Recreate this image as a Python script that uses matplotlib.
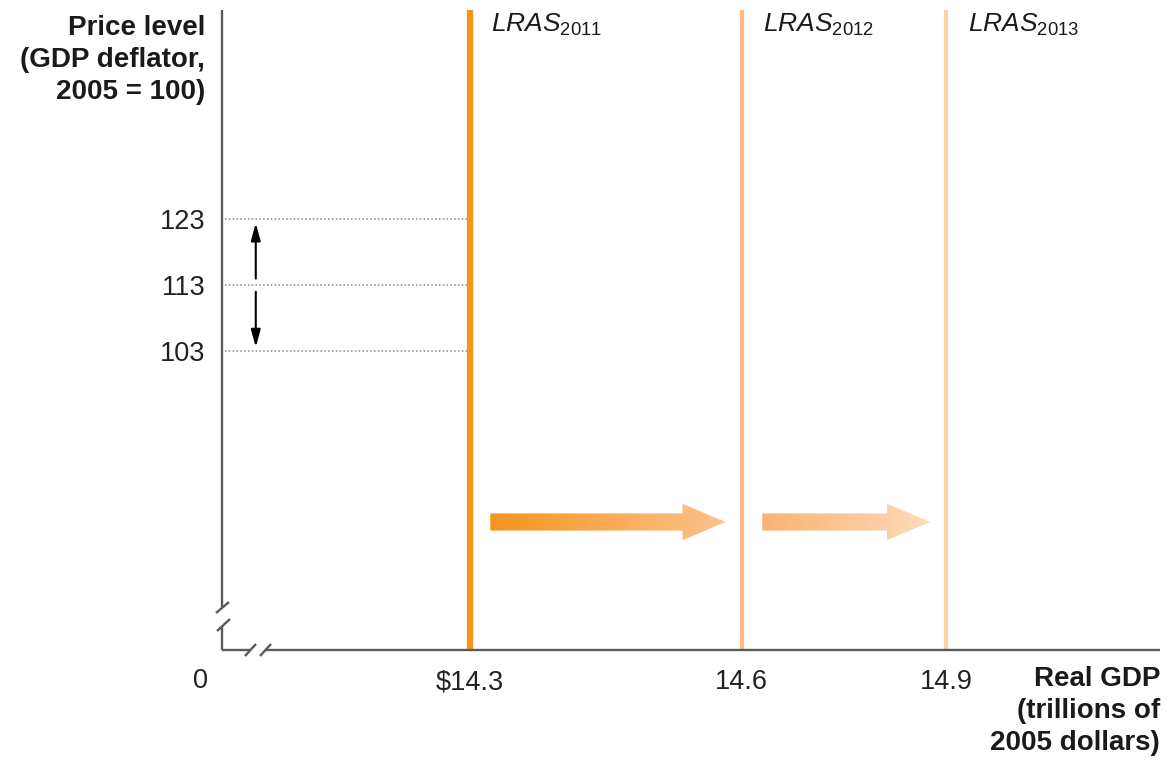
import numpy as np
import matplotlib
matplotlib.use('Agg')
import matplotlib.pyplot as plt
from matplotlib.lines import Line2D
from matplotlib.patches import Polygon
from matplotlib.colors import LinearSegmentedColormap

plt.rcParams['font.family'] = ['Liberation Sans', 'DejaVu Sans']
plt.rcParams['mathtext.fontset'] = 'custom'
plt.rcParams['mathtext.it'] = 'Liberation Sans:italic'
plt.rcParams['mathtext.rm'] = 'Liberation Sans'

# chart data
years = ['2011', '2012', '2013']
gdp_labels = ['$14.3', '14.6', '14.9']
gdp_pos = [26.4, 55.4, 77.2]          # schematic (broken) x axis positions
price_levels = [123, 113, 103]
price_labels = ['123', '113', '103']
lras_colors = ['#F7941D', '#FBBE82', '#FDD3A8']
lras_widths = [4.5, 3.0, 3.0]
arrow_colors = [('#F7941D', '#FCC38E'), ('#FAB273', '#FDDCB9')]

W, H = 1167, 761
AXIS_GRAY = '#5a5a5a'
XLIM = (0, 100)
YLIM = (57.7, 154.7)


def draw_axes_lines(fig):
  """
    Draw both axes with the little break marks (figure pixel coords)
  """
  segs = [
    [(222, 10), (222, 607)],
    [(222, 626), (222, 650)],
    [(222, 650), (251, 650)],
    [(266, 650), (1160, 650)],
    [(216, 613), (229, 602)],
    [(217, 631), (230, 619)],
    [(245, 656), (256, 644)],
    [(260, 656), (271, 644)],
  ]
  for (x0, y0), (x1, y1) in segs:
    fig.add_artist(Line2D([x0 / W, x1 / W], [1 - y0 / H, 1 - y1 / H], transform=fig.transFigure,
                          color=AXIS_GRAY, lw=1.7, solid_capstyle='butt', zorder=5))


def draw_gradient_arrow(ax, x0, x1, y, c0, c1):
  """
    Fat horizontal arrow filled with a left-to-right colour gradient
  """
  shaft = 1.3
  head = 2.75
  head_len = 4.6
  verts = [(x0, y - shaft), (x1 - head_len, y - shaft), (x1 - head_len, y - head),
           (x1, y), (x1 - head_len, y + head), (x1 - head_len, y + shaft), (x0, y + shaft)]
  poly = Polygon(verts, closed=True, facecolor='none', edgecolor='none')
  ax.add_patch(poly)
  cmap = LinearSegmentedColormap.from_list('grad', [c0, c1])
  grad = np.linspace(0, 1, 256).reshape(1, -1)
  im = ax.imshow(grad, cmap=cmap, extent=[x0, x1, y - head, y + head],
                 aspect='auto', origin='lower', zorder=2)
  im.set_clip_path(poly)


fig = plt.figure(figsize=(W / 100, H / 100), dpi=100)
ax = fig.add_axes([222 / W, 111 / H, 938 / W, 640 / H])
for s in ax.spines.values():
  s.set_visible(False)

# dotted guide lines and the two small double arrows
ax.hlines(price_levels, 0.3, gdp_pos[0] - 0.3, colors='#8a8a8a', linestyles=(0, (1, 1.5)), lw=1.1)
arrow_x = 3.6
head_style = dict(arrowstyle='-|>,head_length=0.8,head_width=0.22', color='black', lw=1.5,
                  mutation_scale=13, shrinkA=0, shrinkB=0)
ax.annotate('', xy=(arrow_x, price_levels[0] - 0.6), xytext=(arrow_x, price_levels[1] + 1.0),
            arrowprops=head_style)
ax.annotate('', xy=(arrow_x, price_levels[2] + 0.6), xytext=(arrow_x, price_levels[1] - 1.0),
            arrowprops=head_style)

# LRAS curves
ax.vlines(gdp_pos, YLIM[0], YLIM[1], colors=lras_colors, linewidths=lras_widths, zorder=3)
for pos, yr in zip(gdp_pos, years):
  ax.text(pos + 2.3, YLIM[1] - 2.2, r'$\mathit{LRAS}_{\mathrm{%s}}$' % yr,
          fontsize=19, ha='left', va='center', color='#1a1a1a')

# shift arrows between curves
arrow_y = 77.1
for i in range(len(gdp_pos) - 1):
  draw_gradient_arrow(ax, gdp_pos[i] + 2.2, gdp_pos[i + 1] - 1.7, arrow_y,
                      arrow_colors[i][0], arrow_colors[i][1])

ax.set_xlim(*XLIM)
ax.set_ylim(*YLIM)

ax.set_xticks(gdp_pos, gdp_labels)
ax.set_yticks(price_levels, price_labels)
ax.tick_params(axis='both', length=0, labelsize=19.5, colors='#222222')
ax.tick_params(axis='x', pad=14)
ax.tick_params(axis='y', pad=12)

ax.text(-2.3, -0.048, '0', transform=ax.get_xaxis_transform(), fontsize=19.5,
        ha='center', va='center', color='#222222')

draw_axes_lines(fig)

fig.text(205 / W, 1 - 15 / H, 'Price level\n(GDP deflator,\n2005 = 100)', fontsize=20,
         fontweight='bold', ha='right', va='top', color='#1a1a1a', linespacing=1.3)
fig.text(1160 / W, 1 - 666 / H, 'Real GDP\n(trillions of\n2005 dollars)', fontsize=20,
         fontweight='bold', ha='right', va='top', color='#1a1a1a', linespacing=1.3)

plt.savefig('out.png', dpi=100)
